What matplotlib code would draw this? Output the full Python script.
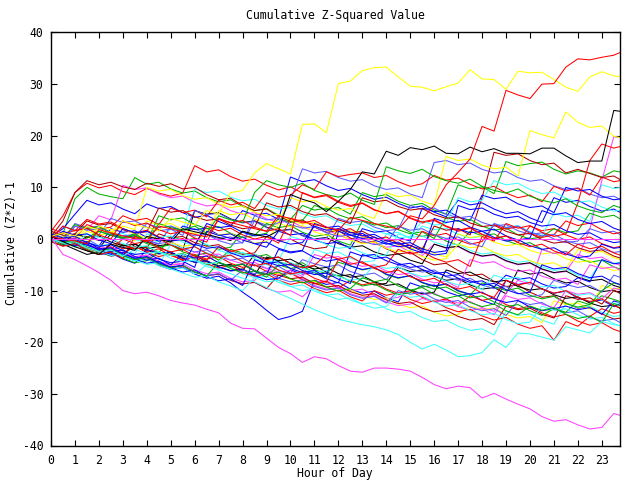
import numpy as np
import matplotlib
matplotlib.use("Agg")
import matplotlib.pyplot as plt

# ---------------- data (values read every half hour, starting at hour 0) ----------------
STEP_HOURS = 0.5
X_TICKS = list(range(0, 24))
Y_TICKS = [-40, -30, -20, -10, 0, 10, 20, 30, 40]

YELLOW_TOP = [0.5, 1.2, 0.6, 2.4, 1.8, 1.2, 3.5, 2.8, 2.2, 1.6, 4.0, 3.3, 2.7, 5.5, 4.8, 9.0, 9.4, 12.8, 14.6, 13.6,
              12.6, 22.2, 22.3, 20.6, 30.1, 30.6, 32.6, 33.2, 33.3, 31.4, 29.6, 29.4, 28.7, 29.5, 30.2, 32.8, 31.0, 30.9,
              29.0, 32.5, 32.2, 32.3, 30.9, 29.4, 28.6, 31.4, 32.4, 31.6, 31.3]
RED_TOP = [0.5, 0.0, -0.4, -0.9, 1.8, 1.2, 0.6, 0.1, -0.4, 2.5, 2.0, 1.4, 0.9, 0.4, 3.8, 3.2, 2.6, 2.0, 1.5, 4.5,
           4.0, 3.4, 2.8, 2.3, 1.7, 4.2, 3.6, 3.0, 2.5, 1.9, 4.5, 3.9, 6.5, 10.5, 12.9, 15.5, 21.8, 20.9, 28.8, 27.9,
           27.2, 30.0, 30.1, 33.3, 34.9, 34.7, 35.2, 35.6, 36.6]
BLACK_TOP = [0.5, -0.5, -1.5, -2.3, -3.0, -1.0, -1.6, -2.2, 0.5, 0.0, -0.6, 2.0, 1.4, 0.9, 0.3, -0.3, 1.5, 0.9, 0.4, 1.6,
             8.6, 7.7, 7.0, 5.3, 7.3, 9.6, 13.0, 12.6, 17.0, 16.2, 17.7, 17.3, 18.0, 16.6, 16.5, 17.8, 16.9, 17.5,
             16.6, 16.6, 16.5, 17.6, 17.6, 16.1, 14.8, 15.1, 15.1, 24.9, 24.6]
MAGENTA_BOTTOM = [0.3, -3.0, -4.0, -5.2, -6.5, -8.0, -10.0, -10.6, -10.3, -11.0, -11.9, -12.4, -12.8, -13.6, -14.3,
                  -16.3, -17.3, -17.4, -19.2, -21.0, -22.2, -23.9, -22.8, -23.2, -24.5, -25.6, -25.8, -25.0, -25.0,
                  -25.2, -25.6, -26.8, -28.2, -29.0, -28.5, -28.8, -30.8, -29.9, -31.0, -32.0, -32.9, -34.4, -35.3,
                  -35.0, -36.0, -36.8, -36.5, -33.8, -34.5]
CYAN_BOTTOM = [0.0, -0.8, -0.5, -1.7, -2.4, -2.1, -3.3, -2.0, -2.8, -2.5, -3.7, -4.4, -4.1, -5.3, -6.0, -6.7, -7.6,
               -8.3, -9.4, -10.5, -11.5, -12.6, -13.7, -14.6, -15.5, -16.1, -16.6, -17.0, -17.6, -18.5, -20.0, -21.3,
               -20.4, -21.5, -22.8, -22.6, -22.0, -19.5, -21.0, -18.2, -18.4, -19.0, -19.6, -17.0, -17.6, -18.2,
               -16.0, -16.6, -17.0]

R1 = [1.5, 4.5, 9.0, 10.8, 9.9, 10.4, 9.2, 8.6, 9.8, 8.9, 8.3, 8.9, 14.2, 13.0, 13.4, 12.1, 11.2, 11.6, 10.4, 9.5,
      10.1, 8.9, 8.0, 8.4, 7.1, 6.3, 6.9, 5.6, 4.9, 5.3, 4.0, 3.1, 3.6, 2.4, 1.5, 2.1, 0.9, 0.0, 0.6, -0.7, 2.5,
      1.6, 2.0, 0.8, -0.1, 0.4, -0.9, -1.7, -1.2]
R2 = [0.5, -0.3, 0.2, 2.8, 1.9, 2.3, 4.5, 3.6, 4.0, 2.8, 6.0, 5.1, 5.6, 4.3, 7.5, 6.6, 7.1, 5.9, 9.0, 8.1, 8.5,
      10.5, 9.6, 13.0, 12.1, 12.5, 12.8, 11.9, 12.3, 11.1, 10.2, 10.7, 12.3, 11.4, 11.8, 10.6, 9.7, 10.2, 8.9, 8.0,
      8.5, 7.2, 10.2, 9.3, 9.8, 8.5, 12.0, 11.1, 11.5]
R3 = [0.0, -0.9, -0.4, -1.7, -2.5, -1.0, -1.9, -1.4, -2.6, -3.4, -2.9, -4.2, -3.0, -3.9, -3.4, -4.7, -5.5, -5.0,
      -6.3, -7.1, -6.6, -7.9, -8.7, -8.2, -9.5, -8.0, -8.9, -8.4, -9.7, -10.5, -10.0, -11.3, -12.1, -11.6, -12.9,
      -11.0, -11.9, -11.4, -12.7, -13.5, -13.0, -14.3, -15.1, -14.6, -15.9, -16.7, -16.2, -17.5, -18.3]
R4 = [0.5, -0.4, 0.1, -1.2, -2.0, -1.5, -2.8, -1.5, -2.4, -1.9, -3.2, -4.0, -3.5, -4.8, -5.6, -5.1, -6.4, -7.2,
      -6.7, -8.0, -8.8, -8.3, -9.6, -10.4, -9.9, -11.2, -12.0, -10.0, -10.9, -10.4, -11.7, -12.5, -12.0, -13.3,
      -14.1, -13.6, -14.9, -15.7, -15.2, -16.5, -17.3, -16.8, -19.6, -16.0, -16.9, -15.0, -13.5, -14.4, -13.9]
R5 = [2.0, 1.1, 1.6, 3.8, 2.9, 3.3, 2.0, 1.2, 1.7, 0.4, -0.4, 0.1, -1.2, 2.5, 1.6, 2.1, 0.8, 0.0, 0.5, -0.8, 4.0,
      3.1, 3.6, 2.3, 1.5, 2.0, 0.7, -0.1, 0.4, -0.9, -1.7, 1.5, 0.6, 1.1, -0.2, -1.0, -0.5, 2.8, 1.9, 2.4, 1.1,
      0.3, 0.8, 3.5, 2.6, 3.1, 1.8, 1.0, 1.5]
R6 = [0.0, -0.9, -0.4, -1.7, -2.5, -2.0, 0.0, -0.9, -0.4, -1.7, -2.5, -2.0, -3.3, -4.1, -1.5, -2.4, -1.9, -3.2,
      -4.0, -3.5, -4.8, -5.6, -5.1, -3.0, -3.9, -3.4, -4.7, -5.5, -5.0, -2.0, -2.9, -2.4, -3.7, -4.5, -4.0, -5.3,
      0.5, -0.4, 3.0, 2.1, 2.6, 1.3, 0.5, 1.0, 7.0, 15.2, 18.4, 17.6, 18.2]
R7 = [-0.5, -1.4, -0.9, -2.2, -3.0, -2.5, -3.8, 0.5, -0.4, 0.1, -1.2, -2.0, -1.5, -2.8, -3.6, -3.1, -4.4, -5.2,
      -4.7, -6.0, -6.8, -6.3, -7.6, -8.4, -4.0, -4.9, -4.4, -5.7, -6.5, -6.0, -7.3, -8.1, -7.6, -8.9, -9.7, -9.2,
      -10.5, -11.3, -8.0, -8.9, -8.4, -9.7, -10.5, -10.0, -11.3, -12.1, -11.6, -12.9, -13.7]
R8 = [0.0, 2.5, 1.6, 2.1, 0.8, 0.0, 3.5, 2.6, 3.1, 1.8, 1.0, 1.5, 0.2, -0.6, 4.0, 3.1, 3.6, 2.3, 1.5, 2.0, 0.7,
      9.0, 8.1, 8.6, 7.3, 6.5, 7.0, 5.7, 4.9, 5.4, 4.1, 3.3, 3.8, 2.5, 1.7, 2.2, 0.9, 0.1, 0.6, -0.7, -1.5, -1.0,
      -2.3, -3.1, -1.0, -1.9, -1.4, -2.7, -3.5]

G1 = [0.5, 1.0, 7.8, 10.0, 8.7, 8.2, 7.8, 11.9, 10.6, 11.0, 9.7, 8.9, 9.3, 8.0, 7.2, 7.6, 6.3, 5.5, 5.9, 4.6,
      3.8, 6.5, 5.6, 6.0, 4.7, 3.9, 4.3, 3.0, 2.2, 2.6, 1.3, 0.5, 0.9, -0.4, -1.2, 1.5, 0.6, 1.0, -0.3, -1.1,
      -0.7, -2.0, -2.8, -2.4, -3.7, -4.5, -4.1, -5.4, -6.2]
G2 = [-0.5, -1.3, -0.9, -2.2, -3.0, -2.6, -1.0, -1.8, -1.4, -2.7, 0.5, -0.3, 0.1, -1.2, -2.0, -1.6, 1.5, 0.7, 1.1,
      4.0, 3.2, 3.6, 6.5, 5.7, 6.1, 4.8, 9.0, 8.2, 8.6, 7.3, 6.5, 6.9, 5.6, 4.8, 10.5, 9.7, 10.1, 8.8, 15.0, 14.2,
      14.6, 14.9, 13.5, 12.6, 13.2, 12.8, 12.0, 13.2, 12.8]
G3 = [0.0, -0.7, -1.5, -1.0, 1.5, 0.8, 0.0, 0.5, -0.9, -1.6, -1.1, -2.5, -3.2, -2.7, -4.1, -2.0, -2.7, -3.5, -3.0,
      -4.4, -5.1, -4.6, -6.0, -6.7, -4.5, -5.2, -6.0, -5.5, -6.9, -7.6, -7.1, -8.5, -9.2, -8.7, -10.1, -10.8,
      -8.5, -9.2, -10.0, -9.5, -10.9, -11.6, -11.1, -12.5, -13.2, -12.7, -11.0, -11.7, -12.5]
G4 = [1.0, 0.2, 2.8, 2.0, 2.4, 1.1, 0.3, 0.7, -0.6, 4.5, 3.7, 4.1, 2.8, 2.0, 2.4, 1.1, 0.3, 0.7, 3.0, 2.2, 2.6,
      1.3, 0.5, 0.9, -0.4, -1.2, 3.5, 2.7, 3.1, 1.8, 1.0, 1.4, 0.1, 4.2, 3.4, 3.8, 2.5, 1.7, 2.1, 0.8, 0.0, 0.4,
      2.0, 1.2, 1.6, 5.0, 4.2, 4.6, 3.3]
G5 = [-0.5, -1.2, -0.8, -2.0, -2.9, -2.5, -3.7, -4.6, -4.2, -2.5, -3.2, -2.8, -4.0, -4.9, -4.5, -5.7, -6.6, -6.2,
      -7.4, -5.0, -5.7, -5.3, -6.5, -7.4, -7.0, -8.2, -9.1, -8.7, -9.9, -10.8, -10.4, -9.0, -9.7, -9.3, -10.5,
      -11.4, -11.0, -12.2, -13.1, -12.7, -13.9, -14.8, -13.5, -14.2, -12.0, -12.7, -10.0, -8.5, -9.2]
G6 = [0.5, -0.3, -0.8, 0.2, 1.5, 0.7, 0.2, 1.0, -0.4, 3.0, 2.2, 1.7, 2.5, 1.1, 4.5, 3.7, 3.2, 9.0, 11.3, 10.5,
      10.0, 10.8, 9.4, 8.6, 8.1, 8.9, 7.5, 6.7, 14.0, 13.2, 12.7, 13.5, 12.1, 11.3, 10.8, 11.6, 10.2, 9.4, 8.9,
      9.7, 8.3, 7.5, 7.0, 7.8, 6.4, 5.6, 5.1, 6.5, 5.7]
G7 = [0.0, -0.8, -0.3, -1.6, -2.4, -1.9, -3.2, -4.0, -3.5, -4.8, -5.6, -5.1, -6.4, -7.2, -4.5, -5.3, -4.8, -6.1,
      -6.9, -6.4, -7.7, -8.5, -8.0, -9.3, -10.1, -9.6, -7.5, -8.3, -7.8, -9.1, -9.9, -9.4, -10.7, -11.5, -11.0,
      -12.3, -13.1, -12.6, -13.9, -14.7, -13.0, -13.8, -13.3, -14.6, -15.4, -14.9, -16.2, -12.5, -13.3]

B1 = [0.5, 2.0, 4.8, 7.5, 6.6, 7.0, 5.8, 4.9, 6.8, 5.9, 6.3, 5.1, 4.2, 4.6, 3.4, 2.5, 5.5, 4.6, 5.0, 3.8, 12.0,
      11.1, 11.5, 10.3, 9.4, 9.8, 8.6, 7.7, 8.1, 6.9, 6.0, 6.4, 5.2, 4.3, 7.5, 6.6, 7.0, 5.8, 4.9, 5.3, 4.1, 3.2,
      8.0, 7.1, 7.5, 6.3, 5.4, 5.8, 4.6]
B2 = [0.0, -0.8, -0.4, -1.7, -2.5, -2.1, -3.4, -4.2, -3.8, -5.1, -5.9, -5.5, -6.8, -7.6, -7.2, -8.5, -10.3, -11.9,
      -13.8, -15.6, -15.0, -14.0, -8.0, -8.8, -8.4, -9.7, -10.5, -10.1, -11.4, -12.2, -8.5, -9.3, -8.9, -10.2,
      -11.0, -10.6, -11.9, -12.7, -8.0, -8.8, -8.4, -9.7, -10.5, -10.1, -11.4, -12.2, -11.8, -13.1, -12.0]
B3 = [1.0, 0.3, 0.6, -0.7, -1.4, 2.0, 1.3, 1.6, 0.3, -0.4, -0.1, 2.5, 1.8, 2.1, 0.8, 0.1, 0.4, -0.9, -1.6, 1.5,
      0.8, 1.1, -0.2, -0.9, -0.6, -1.9, 2.0, 1.3, 1.6, 0.3, -0.4, 6.0, 5.3, 5.6, 4.3, 3.6, 8.5, 7.8, 8.1, 6.8,
      6.1, 6.4, 5.1, 10.0, 9.3, 9.6, 8.3, 7.6, 7.9]
B4 = [-0.5, -1.3, -1.0, -2.2, -3.0, -2.7, -3.9, -4.7, -2.0, -2.8, -2.5, -3.7, -4.5, -4.2, -5.4, -6.2, -5.9, -7.1,
      -7.9, -7.6, -6.0, -6.8, -6.5, -7.7, -8.5, -2.5, -3.3, -3.0, -4.2, -5.0, -4.7, -5.9, -6.7, -6.4, -7.6, -8.4,
      -8.1, -9.3, -7.0, -7.8, -7.5, -8.7, -9.5, -9.2, -7.5, -8.3, -4.0, -4.8, -4.5]
B5 = [0.5, -0.2, -0.9, -0.5, -1.8, -2.5, -2.1, -3.4, -4.1, -3.7, -5.0, -3.0, -3.7, -3.3, -4.6, -5.3, -4.9, -6.2,
      -6.9, -2.0, -2.7, -2.3, -3.6, -4.3, -3.9, -5.2, -5.9, -5.5, -6.8, -7.5, -7.1, -8.4, -9.1, -8.7, -10.0,
      -10.7, -10.3, -11.6, -12.3, -11.9, -13.2, -13.9, -13.5, -13.0, -13.7, -13.3, -14.6, -12.0, -12.7]
B6 = [0.0, -0.8, -1.3, -0.9, -2.2, -3.0, -2.6, -3.9, -4.7, -4.3, -5.6, -6.4, -6.0, -7.3, -8.1, -7.7, -9.0, -4.0,
      -4.8, -4.4, -5.7, -6.5, -6.1, -7.4, 1.5, 0.7, 1.1, -0.2, -1.0, -0.6, -1.9, -2.7, 4.0, 3.2, 3.6, 2.3, 1.5,
      1.9, 0.6, -0.2, 0.2, 5.5, 4.7, 5.1, 3.8, 3.0, 3.4, 2.1, 1.3]
B7 = [0.0, 1.5, 0.7, 1.0, -0.2, -0.9, 2.0, 1.2, 1.5, 0.3, -0.4, -0.1, -1.3, 3.0, 2.2, 2.5, 1.3, 0.6, 0.9, -0.3,
      -1.0, -0.7, 2.5, 1.7, 2.0, 0.8, 0.1, 0.4, -0.8, -1.5, -1.2, -2.4, -3.1, -2.8, 2.0, 1.2, 1.5, 0.3, -0.4,
      -0.1, -1.3, -2.0, -1.7, -2.9, -3.6, -3.3, -1.0, -1.8, -1.5]
B8 = [0.5, -0.3, 0.0, -1.2, -2.0, -1.7, -2.9, -3.7, -3.4, -4.6, -5.4, -5.1, -1.0, -1.8, -1.5, -2.7, -3.5, -3.2,
      -4.4, -5.2, -4.9, -6.1, -6.9, -6.6, -7.8, -8.6, -3.0, -3.8, -3.5, -4.7, -5.5, -5.2, -6.4, -7.2, -6.9, -8.1,
      -8.9, -8.6, -9.8, -10.6, -10.3, -5.0, -5.8, -5.5, -6.7, -7.5, -7.2, -8.4, -9.2]
B9 = [1.0, 0.2, 0.5, -0.7, -1.4, -1.1, -2.3, -3.0, -2.7, -3.9, -4.6, -4.3, -5.5, 1.5, 0.7, 1.0, -0.2, -0.9, -0.6,
      -1.8, -2.5, -2.2, 3.0, 2.2, 2.5, 1.3, 0.6, 0.9, -0.3, -1.0, -0.7, -1.9, -2.6, -2.3, 6.5, 5.7, 6.0, 4.8, 4.1,
      4.4, 3.2, 2.5, 2.8, 1.6, 0.9, 1.2, 0.0, -0.7, -0.4]

LB1 = [0.5, -0.3, 3.0, 2.2, 2.5, 1.3, 0.6, 0.9, -0.3, -1.0, 2.5, 1.7, 2.0, 0.8, 0.1, 0.4, -0.8, 3.5, 2.7, 3.0,
       7.5, 13.6, 12.8, 13.1, 11.9, 11.2, 11.5, 10.3, 9.6, 9.9, 8.7, 8.0, 14.8, 15.2, 14.4, 14.7, 13.5, 12.8, 13.1,
       11.9, 11.2, 11.5, 10.3, 9.6, 9.9, 8.7, 8.0, 8.3, 7.1]
LB2 = [1.0, 0.2, -0.4, 0.0, -1.3, -2.0, -1.6, 0.5, -0.3, -0.9, -0.5, -1.8, -2.5, -2.1, -3.4, -4.1, -3.7, -5.0,
       -5.7, -5.3, -6.6, -4.0, -4.8, -5.4, -5.0, -6.3, -7.0, -6.6, -7.9, -5.0, -5.8, -6.4, -6.0, -7.3, -8.0, -7.6,
       -8.9, -9.6, -9.2, -10.5, -11.2, -10.8, -8.0, -8.8, -9.4, -9.0, -10.3, -7.0, -7.8]
LB3 = [0.0, 2.5, 1.7, 2.0, 0.8, 4.0, 3.2, 3.5, 2.3, 1.6, 1.9, 0.7, 5.5, 4.7, 5.0, 3.8, 3.1, 3.4, 2.2, 1.5, 1.8,
       0.6, -0.1, 0.2, 4.0, 3.2, 3.5, 2.3, 1.6, 1.9, 6.5, 5.7, 6.0, 4.8, 4.1, 4.4, 3.2, 2.5, 2.8, 1.6, 0.9, 1.2,
       0.0, -0.7, -0.4, 2.0, 1.2, 1.5, 0.3]
LB4 = [0.0, -0.7, -0.3, -1.6, -2.3, -1.9, -3.2, -3.9, -3.5, -4.8, -5.5, -5.1, -6.4, -7.1, -6.7, -8.0, -6.0, -6.7,
       -6.3, -7.6, -8.3, -7.9, -9.2, -9.9, -9.5, -10.8, -11.5, -11.1, -12.4, -10.0, -10.7, -10.3, -11.6, -12.3,
       -11.9, -13.2, -13.9, -13.5, -14.8, -12.0, -12.7, -12.3, -13.6, -14.3, -13.9, -15.2, -15.9, -15.5, -16.8]
LB5 = [0.5, -0.3, 2.5, 1.7, 2.0, 0.8, 0.1, 0.4, 3.0, 2.2, 2.5, 1.3, 0.6, 0.9, -0.3, -1.0, -0.7, 4.5, 3.7, 4.0,
       2.8, 2.1, 2.4, 1.2, 0.5, 0.8, -0.4, -1.1, -0.8, 2.5, 1.7, 2.0, 0.8, 0.1, 0.4, -0.8, -1.5, 3.0, 2.2, 2.5,
       1.3, 0.6, 0.9, -0.3, -1.0, -0.7, -1.9, -2.6, -2.3]

M_FLAT = [0.0, 0.0, 0.0, 0.0, 0.0, 0.0, 0.0, 0.0, 0.0, 0.0, 0.0, 0.0, 0.0, 0.0, 0.0, 0.0, 0.0, 0.0, 0.0, 0.0,
          0.0, 0.0, 0.0, 0.0, 0.0, 0.0, 0.0, 0.0, 0.0, 0.0, 0.0, 0.0, 0.0, 0.0, 0.0, 0.0, 0.0, 0.0, 0.0, 0.0,
          0.0, 0.0, 0.0, 0.0, 0.0, 0.0, 0.0, 0.0, 0.0]
M2 = [0.0, -0.8, 2.5, 1.7, 4.5, 3.7, 10.4, 9.6, 9.9, 8.7, 8.0, 8.3, 7.1, 6.4, 6.7, 5.5, 4.8, 5.1, 3.9, 3.2, 3.5,
      2.3, 1.6, 1.9, 0.7, 0.0, 0.3, -0.9, -1.6, -1.3, -2.5, -3.2, -1.0, -1.8, -1.5, -2.7, -3.4, -3.1, -4.3, -5.0,
      -4.7, -5.9, -6.6, -6.3, -3.0, -3.8, -3.5, -4.7, -5.4]
M3 = [0.5, -0.3, 0.0, -1.2, -1.9, -1.6, -2.8, -3.5, -3.2, -4.4, -5.1, -4.8, -6.0, -6.7, -6.4, -7.6, -8.3, -8.0,
      -6.0, -6.8, -6.5, -7.7, -8.4, -8.1, -9.3, -10.0, -9.7, -10.9, -11.6, -11.3, -10.0, -10.8, -10.5, -11.7,
      -12.4, -12.1, -13.3, -14.0, -10.5, -8.0, -8.8, -2.0, -2.8, -2.5, -3.7, 2.0, 11.3, 19.8, 19.5]
M4 = [0.0, -0.7, -0.4, -1.6, -2.3, -2.0, -3.2, -3.9, -3.6, -4.8, -5.5, -5.2, -6.4, -7.1, -6.8, -8.0, -8.7, -8.4,
      -9.6, -10.3, -10.0, -11.2, -9.0, -9.7, -9.4, -10.6, -11.3, -11.0, -12.2, -12.9, -12.6, -11.5, -12.2, -11.9,
      -13.1, -13.8, -13.5, -14.7, -11.0, -11.7, -11.4, -12.6, -13.3, -10.0, -10.7, -10.4, -11.6, -9.5, -10.2]
M5 = [0.5, -0.2, 0.1, -1.1, -1.8, -1.5, -2.7, -3.4, -3.1, -4.3, -5.0, -4.7, -2.5, -3.2, -2.9, -4.1, -4.8, -4.5,
      -5.7, -6.4, -6.1, -7.3, -3.0, -3.7, -3.4, -4.6, -5.3, -5.0, -6.2, -6.9, -6.6, -7.8, -8.5, -8.2, -9.4, -4.0,
      -4.7, -4.4, -5.6, -6.3, -6.0, -7.2, -7.9, -7.6, -8.8, -5.0, -5.7, -5.4, -6.6]

C1 = [0.5, -0.2, 0.1, -1.1, 1.5, 0.8, 1.1, -0.1, -0.8, -0.5, 2.0, 1.3, 9.7, 9.0, 9.3, 8.1, 7.4, 7.7, 6.5, 5.8,
      6.1, 4.9, 4.2, 4.5, 3.3, 2.6, 2.9, 1.7, 1.0, 1.3, 0.1, 2.5, 1.8, 2.1, 0.9, 0.2, 0.5, 3.0, 2.3, 2.6, 1.4,
      0.7, 5.0, 4.3, 4.6, 3.4, 10.5, 9.8, 10.1]
C2 = [0.0, -0.8, -0.5, -1.7, -2.5, -2.2, -3.4, -4.2, -3.9, -5.1, -5.9, -5.6, -6.8, -5.0, -5.8, -5.5, -6.7, -7.5,
      -7.2, -8.4, -9.2, -8.9, -10.1, -10.9, -10.6, -11.8, -12.6, -12.3, -13.5, -14.3, -14.0, -15.2, -16.0, -15.7,
      -16.9, -17.7, -17.4, -18.6, -14.0, -14.8, -14.5, -15.7, -16.5, -12.5, -13.3, -13.0, -14.2, -15.0, -14.7]
C3 = [1.0, 0.3, 0.6, -0.6, -1.3, -1.0, -2.2, -2.9, 1.0, 0.3, 0.6, -0.6, -1.3, -1.0, -2.2, -2.9, -2.6, -3.8, -4.5,
      -4.2, 0.5, -0.2, 0.1, -1.1, -1.8, -1.5, -2.7, -3.4, -3.1, 1.0, 0.3, 0.6, -0.6, -1.3, -1.0, -2.2, -2.9, -2.6,
      -3.8, -4.5, -4.2, -5.4, -6.1, -5.8, -7.0, -7.7, -4.0, -4.7, -4.4]
C4 = [0.0, -0.8, -0.5, -1.7, -2.5, -2.2, -3.4, -4.2, -3.9, -5.1, -1.0, -1.8, -1.5, -2.7, -3.5, -3.2, -4.4, -5.2,
      -4.9, -6.1, -6.9, -6.6, -2.0, -2.8, -2.5, -3.7, -4.5, -4.2, 1.0, 0.2, 0.5, 3.5, 2.7, 3.0, 8.0, 7.2, 7.5,
      11.3, 10.5, 10.8, 9.6, 8.8, 9.1, 7.9, 7.1, 7.4, 6.2, 5.4, 5.7]
C5 = [0.0, -0.7, -1.0, 1.0, 0.3, 0.0, -0.9, -1.6, -1.3, -2.5, -3.2, -2.9, -4.1, -4.8, -4.5, -2.5, -3.2, -2.9,
      -4.1, -4.8, -4.5, -5.7, -6.4, -6.1, -7.3, -8.0, -7.7, -5.0, -5.7, -5.4, -6.6, -7.3, -7.0, -8.2, -8.9, -8.6,
      -9.8, -7.0, -7.7, -7.4, -8.6, -9.3, -9.0, -10.2, -10.9, -10.6, -11.8, -12.5, -12.2]
C6 = [0.0, -0.8, -1.5, -1.2, -2.4, -3.2, -2.9, -4.1, -4.9, -4.6, -5.8, -6.6, -7.4, -7.1, -8.3, -9.1, -10.0, -7.5,
      -8.3, -8.0, -9.2, -10.0, -9.7, -10.9, -11.7, -11.4, -12.6, -13.4, -13.1, -10.5, -11.3, -11.0, -12.2, -13.0,
      -12.7, -13.9, -14.7, -14.4, -15.6, -16.4, -16.1, -13.0, -13.8, -13.5, -14.7, -15.5, -15.2, -16.4, -17.2]

DR1 = [0.5, 3.5, 9.0, 11.3, 10.5, 11.0, 10.1, 9.6, 10.8, 10.2, 10.7, 9.7, 10.0, 8.6, 7.6, 7.9, 6.5, 5.5, 5.8, 4.4,
       3.4, 3.7, 2.3, 1.3, 1.6, 0.2, -0.8, -0.5, -1.9, -2.9, -2.6, -4.0, -5.0, -4.7, -6.1, -7.1, -6.8, -8.2, -9.2,
       -8.9, -10.3, -11.3, -11.0, -12.4, -13.4, -13.1, -14.5, -15.5, -15.2]
DR2 = [-0.5, -1.3, -1.0, 0.5, -0.3, 0.0, -1.2, -1.9, -1.6, 1.0, 0.2, 0.5, -0.7, -1.4, -1.1, -2.3, -3.0, -2.7, 0.5,
       -0.3, 0.0, -1.2, -1.9, -1.6, 2.0, 1.2, 1.5, 0.3, -0.4, -0.1, -1.3, -2.0, 2.5, 1.7, 2.0, 0.8, 8.0, 16.8,
       16.2, 16.5, 15.2, 14.4, 14.7, 12.8, 13.5, 12.7, 11.9, 12.2, 10.9]
DR3 = [0.0, -0.7, -0.4, -1.6, -2.3, -2.0, -3.2, -3.9, -3.6, -4.8, -5.5, -5.2, -6.4, -7.1, -6.8, -8.0, -8.7, -8.4,
       -9.6, -7.0, -7.7, -7.4, -8.6, -9.3, -9.0, -10.2, -10.9, -10.6, -11.8, -12.5, -12.2, -13.4, -14.1, -13.8,
       -15.0, -15.7, -15.4, -16.6, -13.0, -13.7, -13.4, -14.6, -15.3, -11.0, -11.7, -11.4, -12.6, -10.0, -10.7]
DR4 = [1.5, 0.7, 1.0, 3.5, 2.7, 3.0, 1.8, 1.1, 1.4, 6.0, 5.2, 5.5, 4.3, 3.6, 3.9, 2.7, 2.0, 2.3, 7.0, 6.2, 6.5,
       5.3, 4.6, 4.9, 3.7, 3.0, 8.0, 7.2, 7.5, 6.3, 5.6, 5.9, 4.7, 4.0, 4.3, 3.1, 2.4, 2.7, 1.5, 0.8, 1.1, -0.1,
       -0.8, -0.5, -1.7, -2.4, -2.1, -3.3, -4.0]

Y1 = [0.0, -0.7, -0.4, -1.6, -2.3, -2.0, -3.2, -3.9, -3.6, -4.8, -5.5, -3.0, -3.7, -3.4, -4.6, -5.3, -5.0, -6.2,
      -6.9, -6.6, -7.8, -8.5, -8.2, -9.4, -10.1, -9.8, -11.0, -11.7, -11.4, -12.6, -13.3, -13.0, -14.2, -14.9,
      -14.6, -13.0, -13.7, -13.4, -14.6, -15.3, -15.0, -16.2, -12.0, -12.7, -12.4, -13.6, -9.0, -9.7, -9.4]
Y2 = [0.5, -0.3, 0.0, 2.0, 1.2, 1.5, 0.3, -0.4, 3.5, 2.7, 3.0, 1.8, 1.1, 1.4, 5.5, 4.7, 5.0, 3.8, 3.1, 3.4, 8.0,
      7.2, 7.5, 6.3, 5.6, 5.9, 4.7, 4.0, 9.0, 8.2, 8.5, 7.3, 6.6, 16.0, 15.2, 15.5, 14.3, 13.6, 13.9, 12.2, 21.0,
      20.2, 19.6, 24.6, 22.6, 21.6, 21.9, 19.9, 19.4]
Y3 = [1.0, 0.3, 0.6, -0.6, 2.5, 1.8, 2.1, 0.9, 0.2, 0.5, -0.7, -1.4, -1.1, 1.5, 0.8, 1.1, -0.1, -0.8, -0.5, 3.0,
      2.3, 2.6, 1.4, 0.7, 1.0, -0.2, -0.9, -0.6, -1.8, -2.5, -2.2, -3.4, -4.1, -3.8, -1.0, -1.7, -1.4, -2.6, -3.3,
      -3.0, -4.2, -4.9, -4.6, -5.8, -2.0, -2.7, -2.4, -3.6, -4.3]
Y4 = [0.0, -0.7, -0.4, 1.5, 0.8, 1.1, 2.5, 1.8, 10.0, 9.3, 9.6, 8.4, 7.7, 8.0, 6.8, 6.1, 6.4, 5.2, 4.5, 4.8, 3.6,
      2.9, 3.2, 2.0, 1.3, 1.6, 0.4, -0.3, 0.0, -1.2, -1.9, -1.6, -2.8, -3.5, 1.0, 0.3, 0.6, -0.6, -1.3, -1.0,
      -2.2, -2.9, -2.6, -3.8, -4.5, -4.2, -5.4, -6.1, -5.8]

BK2 = [0.0, -1.0, -2.0, -3.0, -2.5, -3.3, -3.0, -1.0, -1.8, -1.5, -2.7, -3.5, -3.2, -4.4, -5.2, -4.9, -6.1, -3.0,
       -3.8, -3.5, -4.7, -5.5, -5.2, -6.4, -7.2, -6.9, -8.1, -8.9, -8.6, -5.5, -6.3, -6.0, -7.2, -8.0, -7.7, -8.9,
       -9.7, -9.4, -10.6, -6.0, -6.8, -6.5, -7.7, -8.5, -8.2, -9.4, -10.2, -9.9, -11.1]
BK3 = [0.5, -0.2, 0.1, -1.1, -1.8, 1.0, 0.3, 0.6, -0.6, -1.3, -1.0, -2.2, 5.5, 4.8, 5.1, 3.9, 3.2, 3.5, 2.3, 1.6,
       1.9, 0.7, 0.0, 0.3, -0.9, -1.6, -1.3, -2.5, -3.2, -2.9, -4.1, -4.8, -1.0, -1.7, -1.4, -2.6, -3.3, -3.0,
       -4.2, -4.9, -4.6, -5.8, -6.5, -6.2, -7.4, -8.1, -7.8, -9.0, -9.7]
BK4 = [0.0, -0.7, 1.0, 0.3, 0.6, -0.6, -1.3, -1.0, -2.2, -2.9, -2.6, -3.8, -4.5, -4.2, -5.4, -6.1, -5.8, -7.0,
       -3.5, -4.2, -3.9, -5.1, -5.8, -5.5, -6.7, -7.4, -7.1, -8.3, -9.0, -8.7, -9.9, -10.6, -10.3, -6.0, -6.7,
       -6.4, -7.6, -8.3, -8.0, -9.2, -9.9, -9.6, -10.8, -11.5, -11.2, -12.4, -13.1, -12.8, -14.0]

RED, GREEN, BLUE, MAGENTA = "#ff0000", "#00b000", "#0000ff", "#ff40ff"
CYAN, DARKRED, YELLOW, BLACK, LIGHTBLUE = "#40ffff", "#b00000", "#ffff00", "#000000", "#5a5aff"

SERIES = [
    (R1, RED), (G1, GREEN), (B1, BLUE), (M2, MAGENTA), (C1, CYAN), (DR1, DARKRED), (Y4, YELLOW), (BK2, BLACK),
    (LB1, LIGHTBLUE), (R2, RED), (G2, GREEN), (B2, BLUE), (M3, MAGENTA), (C2, CYAN), (DR2, DARKRED), (Y1, YELLOW),
    (BK3, BLACK), (LB2, LIGHTBLUE), (R3, RED), (G3, GREEN), (B3, BLUE), (M4, MAGENTA), (C3, CYAN), (DR3, DARKRED),
    (Y2, YELLOW), (BK4, BLACK), (LB3, LIGHTBLUE), (R4, RED), (G4, GREEN), (B4, BLUE), (M5, MAGENTA), (C4, CYAN),
    (DR4, DARKRED), (Y3, YELLOW), (LB4, LIGHTBLUE), (R5, RED), (G5, GREEN), (B5, BLUE), (C5, CYAN), (LB5, LIGHTBLUE),
    (R6, RED), (G6, GREEN), (B6, BLUE), (C6, CYAN), (R7, RED), (G7, GREEN), (B7, BLUE), (R8, RED), (B8, BLUE),
    (B9, BLUE), (MAGENTA_BOTTOM, MAGENTA), (CYAN_BOTTOM, CYAN), (BLACK_TOP, BLACK), (YELLOW_TOP, YELLOW),
    (RED_TOP, RED), (M_FLAT, MAGENTA),
]

# ---------------- figure ----------------
W, H = 640, 480
fig = plt.figure(figsize=(6.4, 4.8), dpi=100)
ax = fig.add_axes([51 / W, (H - 445.5) / H, 569 / W, 413 / H])

for vals, col in SERIES:
    xs = np.arange(len(vals)) * STEP_HOURS
    ax.plot(xs, vals, color=col, lw=0.75, antialiased=True)

FONT = "DejaVu Sans Mono"
FS = 8.3
ax.set_xlim(0, 23.76)
ax.set_ylim(-40, 40)
ax.set_xticks(X_TICKS)
ax.set_yticks(Y_TICKS)
ax.set_xticklabels([str(t) for t in X_TICKS], fontfamily=FONT, fontsize=FS)
ax.set_yticklabels([str(t) for t in Y_TICKS], fontfamily=FONT, fontsize=FS)
ax.tick_params(direction="in", length=4.5, width=0.8, top=True, right=True, colors="black")
ax.tick_params(axis="x", pad=6)
ax.tick_params(axis="y", pad=5.5)
for s in ax.spines.values():
    s.set_linewidth(1.0)
    s.set_color("black")

fig.text(335 / W, 1 - 15.5 / H, "Cumulative Z-Squared Value", ha="center", va="center",
         fontfamily=FONT, fontsize=FS)
fig.text(335 / W, 1 - 473 / H, "Hour of Day", ha="center", va="center", fontfamily=FONT, fontsize=FS)
fig.text(12 / W, 1 - 243 / H, "Cumulative (Z*Z)-1", ha="center", va="center", rotation=90,
         fontfamily=FONT, fontsize=FS)

fig.savefig("out.png", dpi=100)
